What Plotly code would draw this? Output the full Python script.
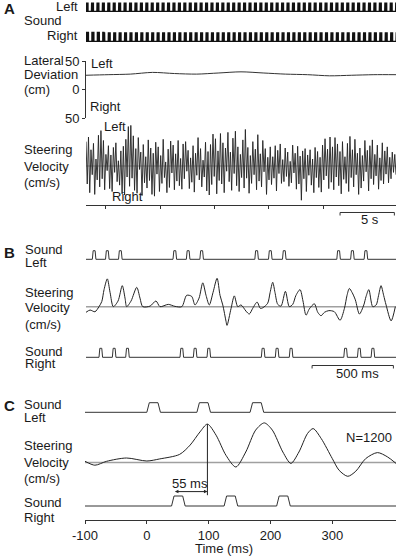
import numpy as np
import plotly.graph_objects as go

W, H = 396, 558
FONT = "Liberation Sans, Arial, Helvetica, sans-serif"
INK = "#1a1a1a"
TRACE = "#222222"
GRAY = "#a0a0a0"

# ---------------- data ----------------
# Panel A (time in s)
a_time_range = [-1.84, 26.7]
a_time_ticks = [0, 5, 10, 15, 20]
a_scalebar_s = [21.55, 26.55]
a_triplet_period = 0.5
a_triplet_offsets = [0.0, 0.083, 0.166]
a_right_delay = 0.042
a_pulse_width = 0.022
lateral_dev_cm = [25, 26, 27, 30, 28, 27, 29, 31, 29, 27, 26, 24, 25, 26, 26]
a_steering = [
    4.2, -3.1, 5.0, -4.6, 2.8, -1.5, 3.9, -4.9, 1.2, -2.4,
    5.3, -3.6, 6.1, -2.2, 4.4, -4.1, 2.0, -0.8, 3.5, -3.9,
    1.9, -4.4, 3.2, -1.1, 4.0, -2.7, 0.9, -3.3, 2.6, -4.8,
    3.4, -5.0, 4.6, -1.9, 6.8, -3.5, 7.0, -2.1, 5.2, -4.2,
    3.0, -4.7, 4.9, -0.6, 2.4, -5.1, 3.7, -2.9, 1.6, -3.8,
    4.5, -2.5, 3.1, -4.9, 2.2, -5.2, 4.1, -1.4, 3.3, -4.4,
    1.8, -3.0, 4.6, -2.0, 0.7, -4.6, 2.9, -3.7, 4.3, -1.2,
    3.6, -4.1, 2.1, -2.6, 4.4, -3.4, 1.3, -4.0, 3.8, -2.2,
    4.2, -0.9, 2.7, -3.9, 1.4, -2.8, 3.5, -4.5, 2.2, -1.6,
    4.9, -2.4, 3.0, -3.6, 1.0, -1.9, 4.1, -4.3, 2.5, -5.0,
    3.7, -3.2, 5.5, -1.8, 4.7, -4.8, 2.6, -2.5, 5.6, -3.1,
    4.0, -4.6, 3.1, -0.9, 5.8, -2.7, 2.4, -4.2, 4.8, -1.3,
    6.0, -3.4, 3.3, -4.4, 2.0, -2.0, 4.5, -3.8, 6.3, -2.1,
    3.2, -4.7, 1.8, -3.0, 4.2, -1.5, 2.9, -4.1, 5.4, -2.6,
    2.1, -3.6, 4.4, -1.0, 3.0, -4.9, 1.5, -2.4, 3.3, -3.2,
    1.6, -2.1, 3.5, -4.3, 2.7, -1.3, 3.8, -3.0, 1.1, -2.7,
    3.1, -1.8, 2.4, -3.5, 0.8, -2.9, 3.6, -1.2, 2.2, -4.0,
    3.4, -3.1, 1.7, -5.9, 2.6, -2.2, 3.0, -4.4, 1.9, -1.6,
    2.8, -3.3, 1.2, -4.6, 3.2, -2.0, 2.5, -3.7, 1.5, -4.5,
    3.6, -2.4, 4.7, -1.7, 2.9, -3.9, 5.0, -2.8, 3.3, -4.1,
    4.9, -1.9, 3.8, -3.4, 2.5, -4.8, 4.2, -2.3, 1.6, -3.0,
    3.9, -4.4, 5.1, -2.0, 2.8, -3.6, 4.6, -1.5, 2.2, -4.9,
    3.1, -3.8, 1.8, -2.6, 4.4, -1.0, 2.7, -4.3, 3.5, -2.2,
    4.5, -3.2, 2.0, -1.7, 3.6, -4.0, 1.4, -2.5, 4.0, -3.1,
    2.6, -1.4, 3.3, -2.9, 1.5, -2.2, 2.4, -1.1, 2.0, -1.5,
]

# Panel B (time in ms)
b_time_range = [0, 1906]
b_scalebar_ms = [1390, 1890]
b_pulse_width = 22
b_left_onsets = [39, 120, 200, 535, 617, 700, 1038, 1122, 1208, 1542, 1627, 1710]
b_right_onsets = [80, 162, 244, 578, 660, 744, 1078, 1164, 1250, 1585, 1669, 1753]
b_steer_t = [0, 25, 55, 80, 97, 111, 131, 148, 168, 197, 223, 240, 250, 277, 312, 332,
             349, 394, 430, 455, 506, 547, 589, 619, 650, 670, 695, 718, 738, 758, 781,
             806, 824, 841, 861, 867, 892, 912, 933, 953, 984, 1004, 1025, 1052, 1072,
             1087, 1117, 1132, 1148, 1162, 1179, 1199, 1226, 1250, 1271, 1291, 1316,
             1334, 1353, 1373, 1404, 1425, 1445, 1466, 1493, 1527, 1562, 1589, 1605,
             1619, 1636, 1656, 1681, 1708, 1722, 1739, 1763, 1784, 1799, 1814, 1830,
             1845, 1876, 1902]
b_steer_v = [-1.0, -0.6, -0.9, 0.0, 0.9, 3.0, 4.9, 2.5, 0.0, 1.0, 3.7, 1.5, 0.0, 1.0, 3.4, 1.5,
             0.0, 0.1, 1.0, 0.0, 0.4, 0.05, 0.0, 2.0, 1.8, 0.3, 1.5, 4.2, 2.0, 0.3, 2.5,
             5.0, 2.0, 0.3, -2.6, -3.3, -0.3, 1.9, 0.0, 0.3, -0.8, -1.3, -0.3, 0.8, -0.3,
             -0.2, 0.6, 2.5, 4.3, 2.5, 0.4, 0.1, 2.7, 0.0, 0.4, 2.0, 3.0,
             1.0, -1.5, -0.4, 0.5, -1.0, -1.6, -1.0, -0.7, -0.9, -2.4, -0.3, 2.0,
             3.2, 2.5, 1.2, -1.3, 0.3, 1.8, 3.0, 0.0, 0.3, 2.0, 3.7, 2.0,
             0.3, -2.5, 0.0]

# Panel C (time in ms, average of N trials)
c_time_range = [-100, 403]
c_ticks = [-100, 0, 100, 200, 300]
c_tick_text = ["-100", "0", "100", "200", "300"]
c_pulse_width = 22
c_left_onsets = [0, 81, 167]
c_right_onsets = [40, 125, 210]
c_steer_t = [-100, -84, -65, -33, 0, 21, 53, 70, 86, 98, 112, 128, 144, 160, 176, 190,
             203, 220, 233, 246, 260, 269, 282, 300, 311, 325, 338, 354, 373, 389, 403]
c_steer_v = [0.04, -0.09, 0.04, 0.15, 0.05, 0.12, 0.27, 0.58, 1.02, 1.28, 0.91, 0.24,
             -0.15, 0.35, 1.08, 1.32, 1.08, 0.35, -0.03, 0.35, 0.97, 1.13, 0.8, 0.13,
             -0.26, -0.46, -0.29, 0.13, 0.33, 0.19, -0.03]
c_lag_ms = 55
c_first_window_ms = 150   # first response peak is searched before this time
c_n_trials = 1200


# ---------------- helpers ----------------
def pulse_train(onsets, width, rise, t0, t1):
    xs, ys = [t0], [0]
    for o in onsets:
        xs += [o, o + rise, o + width - rise, o + width]
        ys += [0, 1, 1, 0]
    xs.append(t1)
    ys.append(0)
    return xs, ys


layout = dict(
    template="none",
    width=W, height=H, autosize=False, margin=dict(l=0, r=0, t=0, b=0, pad=0),
    paper_bgcolor="white", plot_bgcolor="rgba(0,0,0,0)", showlegend=False,
    font=dict(family=FONT, size=13, color=INK),
)
counter = [0]


def add_axes(xpx, xrange, ytop, ybot, p0, ppu, xshow=False, yshow=False, xkw=None, ykw=None):
    counter[0] += 1
    k = counter[0]
    sfx = "" if k == 1 else str(k)
    base = dict(showgrid=False, zeroline=False, showline=True, linecolor="#333", linewidth=1,
                ticks="outside", ticklen=3, tickcolor="#333", tickwidth=1, automargin=False,
                tickfont=dict(family=FONT, size=13, color=INK), fixedrange=True)
    xa = dict(base, domain=[xpx[0] / W, xpx[1] / W], range=xrange, anchor="y" + sfx, visible=xshow)
    ya = dict(base, domain=[1 - ybot / H, 1 - ytop / H],
              range=[-(ybot - p0) / ppu, (p0 - ytop) / ppu], anchor="x" + sfx, visible=yshow)
    xa.update(xkw or {})
    ya.update(ykw or {})
    layout["xaxis" + sfx] = xa
    layout["yaxis" + sfx] = ya
    return "x" + sfx, "y" + sfx


fig = go.Figure()
shapes = []
annotations = []


def line(xs, ys, xr, yr, color=TRACE, width=1, shape="linear"):
    fig.add_trace(go.Scatter(x=xs, y=ys, xaxis=xr, yaxis=yr, mode="lines",
                             line=dict(color=color, width=width, shape=shape, smoothing=0.8),
                             hoverinfo="skip"))


def zero_line(xr, yr, rng, color=GRAY, width=1.5):
    shapes.append(dict(type="line", xref=xr, yref=yr, x0=rng[0], x1=rng[1], y0=0, y1=0,
                       line=dict(color=color, width=width), layer="below"))


def text(s, x, y, anchor="left", size=13, bold=False):
    annotations.append(dict(text=("<b>%s</b>" % s) if bold else s, x=x / W, y=1 - y / H,
                            xref="paper", yref="paper", xanchor=anchor, yanchor="middle",
                            showarrow=False, font=dict(family=FONT, size=size, color=INK)))


def scalebar(xr, t0, t1, ypx, label, label_x, label_y):
    yp = 1 - ypx / H
    yt = 1 - (ypx + 3) / H
    shapes.append(dict(type="path", xref=xr, yref="paper",
                       path="M %g,%g L %g,%g L %g,%g L %g,%g" % (t0, yt, t0, yp, t1, yp, t1, yt),
                       line=dict(color="#333", width=1)))
    text(label, label_x, label_y, anchor="center")


XA = (86, 396)

# ---------------- Panel A ----------------
a_onsets_l = [t + o for t in np.arange(a_time_range[0], a_time_range[1], a_triplet_period)
              for o in a_triplet_offsets]
a_onsets_r = [t + a_right_delay for t in a_onsets_l]
xr, yr = add_axes(XA, a_time_range, 0, 14, 11.3, 8.8)
line(*pulse_train(a_onsets_l, a_pulse_width, 0.004, *a_time_range), xr, yr, color="#111", width=1.3)
xr, yr = add_axes(XA, a_time_range, 29, 44, 41.3, 9.0)
line(*pulse_train(a_onsets_r, a_pulse_width, 0.004, *a_time_range), xr, yr, color="#111", width=1.3)

xr, yr = add_axes(XA, a_time_range, 61, 118, 89.5, 0.57, yshow=True,
                  ykw=dict(tickvals=[-50, 0, 50], ticktext=["50", "0", "50"]))
line(list(np.linspace(a_time_range[0], a_time_range[1], len(lateral_dev_cm))), lateral_dev_cm,
     xr, yr, color="#333", width=1, shape="spline")

add_axes(XA, a_time_range, 137, 195, 166, 5.8, yshow=True,
         ykw=dict(tickvals=[-5, 0, 5], ticktext=["5", "0", "5"]))
xr, yr = add_axes(XA, a_time_range, 110, 205, 166, 5.8, xshow=True,
                  xkw=dict(tickvals=a_time_ticks, showticklabels=False))
zero_line(xr, yr, a_time_range, width=1)
line(list(np.linspace(a_time_range[0], a_time_range[1], len(a_steering))), a_steering,
     xr, yr, color="#222", width=0.9)
scalebar(xr, a_scalebar_s[0], a_scalebar_s[1], 212.5, "5 s", 370, 220)

text("A", 2, 8.5, size=15, bold=True)
text("Left", 80, 7, anchor="right")
text("Sound", 22, 21)
text("Right", 80, 36, anchor="right")
text("Lateral", 22, 60)
text("Deviation", 22, 74)
text("(cm)", 22, 89)
text("Left", 89, 63)
text("Right", 88, 107)
text("Steering", 22, 149)
text("Velocity", 22, 166)
text("(cm/s)", 22, 182)
text("Left", 102, 127)
text("Right", 110, 196)

# ---------------- Panel B ----------------
xr, yr = add_axes(XA, b_time_range, 246, 262, 259.3, 8.6)
line(*pulse_train(b_left_onsets, b_pulse_width, 5, *b_time_range), xr, yr, color="#333")
add_axes(XA, b_time_range, 278.3, 335, 306.65, 5.67, yshow=True,
         ykw=dict(tickvals=[-5, 0, 5], ticktext=["5", "0", "5"]))
xr, yr = add_axes(XA, b_time_range, 265, 345, 306.65, 5.67)
zero_line(xr, yr, b_time_range)
line(b_steer_t, b_steer_v, xr, yr, shape="spline")
xr, yr = add_axes(XA, b_time_range, 344, 360, 357.3, 9.0)
line(*pulse_train(b_right_onsets, b_pulse_width, 5, *b_time_range), xr, yr, color="#333")
scalebar(xr, b_scalebar_ms[0], b_scalebar_ms[1], 365.5, "500 ms", 357, 373)

text("B", 2, 252, size=15, bold=True)
text("Sound", 23, 249)
text("Left", 23, 262)
text("Steering", 23, 292)
text("Velocity", 23, 307)
text("(cm/s)", 23, 324)
text("Sound", 23, 351)
text("Right", 23, 363)

# ---------------- Panel C ----------------
XC = (85, 396)
xr, yr = add_axes(XC, c_time_range, 399, 415, 412.3, 9.6)
line(*pulse_train(c_left_onsets, c_pulse_width, 4, *c_time_range), xr, yr, color="#333")
add_axes(XC, c_time_range, 432.5, 492.5, 462.5, 30, yshow=True,
         ykw=dict(tickvals=[-1, 0, 1], ticktext=["1", "0", "1"]))
xr, yr = add_axes(XC, c_time_range, 415, 500, 462.5, 30)
zero_line(xr, yr, c_time_range)
line(c_steer_t, c_steer_v, xr, yr, shape="spline")
first = [i for i, t in enumerate(c_steer_t) if 0 <= t < c_first_window_ms]
peak_i = max(first, key=lambda i: c_steer_v[i])
peak_t, peak_v = c_steer_t[peak_i], c_steer_v[peak_i]
shapes.append(dict(type="line", xref=xr, yref=yr, x0=peak_t, x1=peak_t, y0=peak_v, y1=-1.09,
                   line=dict(color="#222", width=1)))
annotations.append(dict(x=peak_t, y=-0.97, ax=peak_t - c_lag_ms, ay=-0.97, xref=xr, yref=yr,
                        axref=xr, ayref=yr, text="", showarrow=True, arrowhead=2,
                        startarrowhead=2, arrowside="end+start", arrowsize=0.7, arrowwidth=1,
                        arrowcolor="#222"))
annotations.append(dict(x=peak_t - c_lag_ms / 2, y=-0.69, xref=xr, yref=yr,
                        text="%d ms" % c_lag_ms, showarrow=False,
                        font=dict(family=FONT, size=13, color=INK)))
xr, yr = add_axes(XC, c_time_range, 490, 520, 506, 10, xshow=True,
                  xkw=dict(tickvals=c_ticks, ticktext=c_tick_text))
line(*pulse_train(c_right_onsets, c_pulse_width, 4, *c_time_range), xr, yr, color="#333")

text("C", 2, 405, size=15, bold=True)
text("Sound", 22, 404)
text("Left", 22, 417)
text("Steering", 22, 445)
text("Velocity", 22, 462)
text("(cm/s)", 22, 478)
text("Sound", 22, 502)
text("Right", 22, 517)
text("N=%d" % c_n_trials, 394, 437, anchor="right")
text("Time (ms)", 224, 548, anchor="center")

layout["shapes"] = shapes
layout["annotations"] = annotations
fig.update_layout(**layout)
fig.write_html("out.html", config={"displayModeBar": False, "staticPlot": True},
               post_script="document.body.style.margin='0';document.body.style.overflow='hidden';")
